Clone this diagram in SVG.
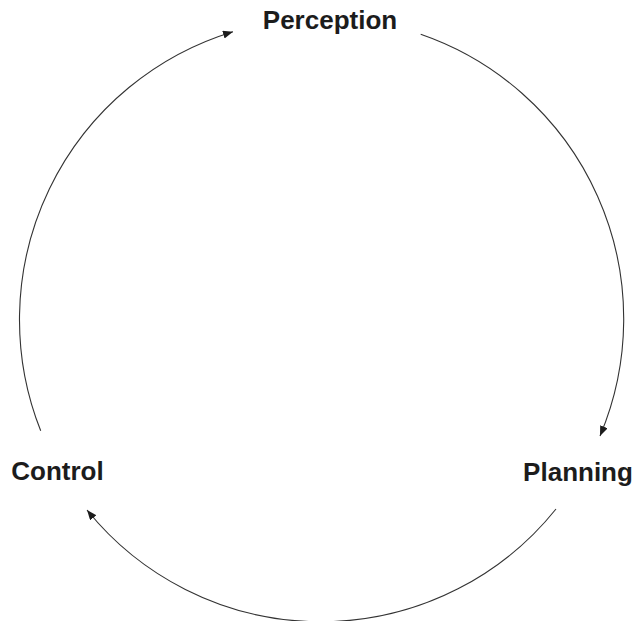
<svg xmlns="http://www.w3.org/2000/svg" width="635" height="621" viewBox="0 0 635 621">
  <style>
    .lbl { font-family: "Liberation Sans", Arial, sans-serif; font-weight: bold; font-size: 26px; fill: #1c1c1c; text-anchor: middle; }
    .arc { fill: none; stroke: #333; stroke-width: 1.1; marker-end: url(#ah); }
  </style>
  <defs>
    <marker id="ah" markerUnits="userSpaceOnUse" markerWidth="12" markerHeight="10" refX="10" refY="4" orient="auto">
      <path d="M0,0 L10,4 L0,8 Z" fill="#1c1c1c"/>
    </marker>
  </defs>
  <rect width="635" height="621" fill="#fff"/>
  <g id="connectors">
    <path class="arc" d="M420.7,34.3 A301,301 0 0 1 600,436"/>
    <path class="arc" d="M556,509 A301,301 0 0 1 87,510"/>
    <path class="arc" d="M40.7,430.7 A301,301 0 0 1 233,31.7"/>
  </g>
  <g id="perception"><text class="lbl" x="330" y="29">Perception</text></g>
  <g id="planning"><text class="lbl" x="578" y="481">Planning</text></g>
  <g id="control"><text class="lbl" x="57.5" y="480">Control</text></g>
</svg>
